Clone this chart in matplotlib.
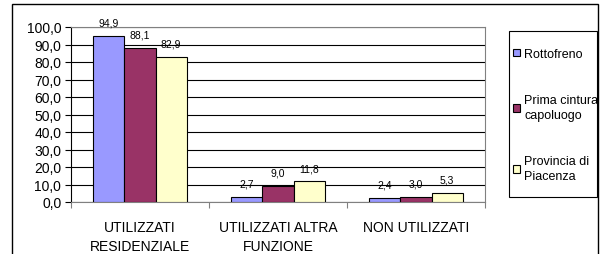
import matplotlib.pyplot as plt
import numpy as np
from matplotlib.patches import Rectangle

plt.rcParams['font.family'] = ['Liberation Sans', 'DejaVu Sans']

categorie = ["UTILIZZATI\nRESIDENZIALE", "UTILIZZATI ALTRA\nFUNZIONE", "NON UTILIZZATI"]
serie = ["Rottofreno", "Prima cintura\ncapoluogo", "Provincia di\nPiacenza"]
valori = [
    [94.9, 2.7, 2.4],
    [88.1, 9.0, 3.0],
    [82.9, 11.8, 5.3],
]
colori = ["#9999FF", "#993366", "#FFFFCC"]

W, H = 607, 255
fig = plt.figure(figsize=(W / 100, H / 100), dpi=100)

# cornice esterna
fig.patches.append(Rectangle((12 / W, -0.1), (598 - 12) / W, 1.1 - 5 / H,
                             transform=fig.transFigure, fill=False,
                             edgecolor="black", linewidth=1.0))
# riquadro legenda
fig.patches.append(Rectangle((509 / W, 1 - 198 / H), (597 - 509) / W, (198 - 32) / H,
                             transform=fig.transFigure, fill=False,
                             edgecolor="black", linewidth=0.8))

ax = fig.add_axes([71 / W, 1 - 203 / H, (485 - 71) / W, (203 - 28) / H])
x = np.arange(len(categorie))
larg = 0.225
for i, (nome, vals, c) in enumerate(zip(serie, valori, colori)):
    pos = x + (i - 1) * larg
    ax.bar(pos, vals, larg, color=c, edgecolor="black", linewidth=0.8,
           label=nome, zorder=3)
    for p, v in zip(pos, vals):
        ax.annotate(f"{v:.1f}".replace(".", ","), (p, v), xytext=(0, 6),
                    textcoords="offset points", ha="center", va="bottom",
                    fontsize=7.5, zorder=4)

ax.set_xlim(-0.5, 2.5)
ax.set_ylim(0, 100)
ax.set_yticks(np.arange(0, 101, 10))
ax.set_yticklabels([f"{v:.1f}".replace(".", ",") for v in np.arange(0, 101, 10)],
                   fontsize=10)
ax.yaxis.grid(True, color="black", linewidth=0.8, zorder=0)
ax.set_xticks([-0.5, 0.5, 1.5, 2.5])
ax.set_xticklabels([])
ax.set_xticks(x, minor=True)
ax.set_xticklabels(categorie, minor=True, fontsize=10, linespacing=1.45)
ax.tick_params(axis="x", which="minor", length=0, pad=13)
ax.tick_params(axis="x", which="major", length=4, direction="out", color="gray")
ax.tick_params(axis="y", length=4, direction="out", pad=3)
for s in ["top", "right"]:
    ax.spines[s].set_color("gray")
ax.spines["left"].set_color("black")
ax.spines["bottom"].set_color("gray")

leg = fig.legend(loc="upper left", bbox_to_anchor=(513 / W, 1 - 49 / H),
                 fontsize=9, frameon=False, borderpad=0, borderaxespad=0,
                 handlelength=0.55, handleheight=0.55, handletextpad=0.35,
                 labelspacing=2.75)
for t in leg.get_texts():
    t.set_linespacing(1.3)
for h in leg.legend_handles:
    h.set_linewidth(0.8)
fig.savefig("out.png", dpi=100)
